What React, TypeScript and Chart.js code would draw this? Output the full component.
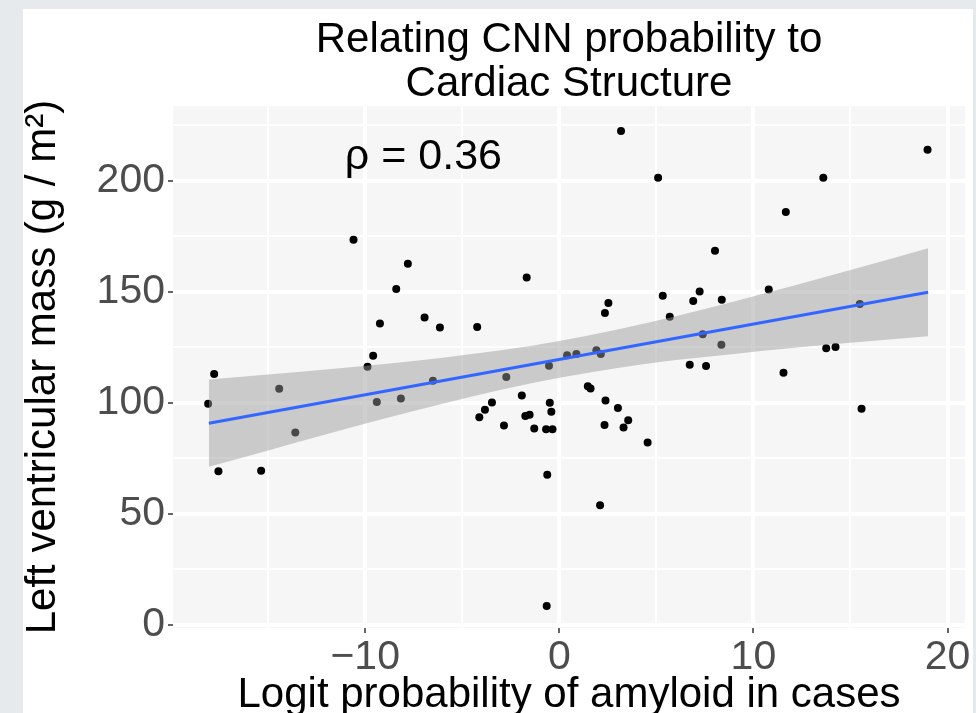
import React, { useEffect, useRef } from 'react';
import { Chart, registerables } from 'chart.js';

Chart.register(...registerables);

// ---- data ----
const pointX = [
  -18.09, -17.78, -17.56, -15.36, -14.43, -13.6, -10.6, -9.88, -9.59, -9.4,
  -9.24, -8.4, -8.16, -7.8, -6.94, -6.51, -6.15, -4.23, -4.12, -3.83,
  -3.47, -2.85, -2.73, -1.93, -1.75, -1.68, -1.53, -1.29, -0.68, -0.62,
  -0.65, -0.53, -0.49, -0.41, -0.35, 0.4, 0.88, 1.47, 1.61, 1.91,
  2.1, 2.14, 2.33, 2.35, 2.38, 2.53, 3.02, 3.18, 3.31, 3.55,
  4.55, 5.09, 5.33, 5.69, 6.72, 6.9, 7.23, 7.39, 7.56, 8.02,
  8.35, 8.37, 10.79, 11.55, 11.67, 13.6, 13.75, 14.23, 15.48, 15.57,
  18.97,
];
const pointY = [
  99.5, 112.9, 69.1, 69.4, 106.3, 86.6, 173.4, 116.2, 121.2, 100.3,
  135.7, 151.2, 101.9, 162.6, 138.4, 109.9, 133.9, 134.1, 93.4, 96.8,
  100.1, 89.7, 111.6, 103.3, 94.0, 156.4, 94.6, 88.4, 88.1, 67.6,
  8.4, 116.7, 100.0, 95.9, 88.1, 121.4, 121.9, 107.4, 106.4, 123.6,
  53.8, 122.0, 90.0, 140.4, 101.0, 144.9, 97.6, 222.4, 88.8, 92.1,
  82.1, 201.4, 148.2, 138.7, 117.1, 145.8, 150.1, 130.8, 116.5, 168.5,
  126.1, 146.4, 151.0, 113.5, 185.9, 201.4, 124.5, 125.1, 144.5, 97.3,
  214.0,
];

const fitX = [-18.05, 19.0];
const fitY = [90.75, 149.8];

const bandX = [-18.05, -15, -12, -9, -6, -3, 0, 3, 6, 9, 12, 15, 19.0];
const bandUpper = [110.5, 112.7, 115.0, 117.5, 120.3, 123.6, 127.8, 133.0, 139.0, 145.6, 152.6, 159.8, 169.6];
const bandLower = [71.1, 78.5, 85.8, 92.9, 99.5, 105.8, 111.2, 115.6, 119.2, 122.0, 124.6, 127.0, 129.9];

const xGridValues = [-15, -10, -5, 0, 5, 10, 15, 20];
const xLabelled = [-10, 0, 10, 20];
const yGridValues = [0, 25, 50, 75, 100, 125, 150, 175, 200, 225];
const yLabelled = [0, 50, 100, 150, 200];

const titleLines = ['Relating CNN probability to', 'Cardiac Structure'];
const xAxisTitle = 'Logit probability of amyloid in cases';
const yAxisTitle = 'Left ventricular mass (g / m²)';
const annotationText = 'ρ = 0.36';
const annotationX = -7.0;
const annotationY = 205.5;

const FONT = '"Liberation Sans", Arial, Helvetica, sans-serif';

const panelBg = {
  id: 'panelBg',
  beforeDraw(chart: any) {
    const { ctx, chartArea: a } = chart;
    ctx.save();
    ctx.fillStyle = '#f6f6f6';
    ctx.fillRect(a.left, a.top, a.right - a.left, a.bottom - a.top);
    ctx.restore();
  },
};

const annotationPlugin = {
  id: 'rhoLabel',
  afterDatasetsDraw(chart: any) {
    const { ctx, scales } = chart;
    const px = scales.x.getPixelForValue(annotationX);
    const py = scales.y.getPixelForValue(annotationY);
    ctx.save();
    ctx.font = `43px ${FONT}`;
    ctx.fillStyle = '#000000';
    ctx.textAlign = 'center';
    ctx.textBaseline = 'alphabetic';
    ctx.fillText(annotationText, px, py);
    ctx.restore();
  },
};

export default function App() {
  const canvasRef = useRef<HTMLCanvasElement | null>(null);

  useEffect(() => {
    const canvas = canvasRef.current;
    if (!canvas) return;

    const points = pointX.map((x, i) => ({ x, y: pointY[i] }));
    const fit = fitX.map((x, i) => ({ x, y: fitY[i] }));
    const upper = bandX.map((x, i) => ({ x, y: bandUpper[i] }));
    const lower = bandX.map((x, i) => ({ x, y: bandLower[i] }));

    const chart = new Chart(canvas, {
      type: 'scatter',
      data: {
        datasets: [
          {
            type: 'line',
            label: 'fit',
            data: fit,
            borderColor: '#3366FF',
            borderWidth: 3,
            pointRadius: 0,
            fill: false,
            order: 0,
          } as any,
          {
            type: 'line',
            label: 'upper',
            data: upper,
            borderColor: 'rgba(0,0,0,0)',
            borderWidth: 0,
            pointRadius: 0,
            cubicInterpolationMode: 'monotone',
            backgroundColor: 'rgba(153,153,153,0.47)',
            fill: '+1',
            order: 1,
          } as any,
          {
            type: 'line',
            label: 'lower',
            data: lower,
            borderColor: 'rgba(0,0,0,0)',
            borderWidth: 0,
            pointRadius: 0,
            cubicInterpolationMode: 'monotone',
            fill: false,
            order: 1,
          } as any,
          {
            type: 'scatter',
            label: 'points',
            data: points,
            backgroundColor: '#000000',
            borderWidth: 0,
            pointRadius: 4,
            order: 2,
          } as any,
        ],
      },
      options: {
        animation: false,
        responsive: false,
        maintainAspectRatio: false,
        layout: { padding: { top: 0, left: 0, right: 11, bottom: 0 } },
        plugins: {
          legend: { display: false },
          tooltip: { enabled: false },
          title: {
            display: true,
            text: titleLines,
            fullSize: false,
            color: '#000000',
            font: { family: FONT, size: 42, weight: 'normal', lineHeight: 1.05 },
            padding: { top: 18, bottom: 0 },
          },
        },
        scales: {
          x: {
            type: 'linear',
            min: -19.9,
            max: 20.9,
            afterFit: (s: any) => { s.height = 85; },
            afterBuildTicks: (s: any) => { s.ticks = xGridValues.map((v) => ({ value: v })); },
            border: { display: false },
            grid: {
              color: '#ffffff',
              lineWidth: (c: any) => (c.tick && xLabelled.includes(c.tick.value) ? 4 : 2),
              drawTicks: true,
              tickLength: 5,
              tickWidth: 1.5,
              tickColor: (c: any) => (c.tick && xLabelled.includes(c.tick.value) ? '#333333' : 'rgba(0,0,0,0)'),
            },
            ticks: {
              autoSkip: false,
              maxRotation: 0,
              padding: 0,
              color: '#4d4d4d',
              font: { family: FONT, size: 41 },
              callback: (v: any) => {
                const n = Number(v);
                if (!xLabelled.includes(n)) return '';
                return n < 0 ? '\u2212' + Math.abs(n) : String(n);
              },
            },
            title: {
              display: true,
              text: xAxisTitle,
              color: '#000000',
              font: { family: FONT, size: 42, lineHeight: 0.84 },
              padding: { top: 0, bottom: 0 },
            },
          },
          y: {
            type: 'linear',
            min: -1.5,
            max: 233.6,
            afterFit: (s: any) => { s.width = 173; },
            afterBuildTicks: (s: any) => { s.ticks = yGridValues.map((v) => ({ value: v })); },
            border: { display: false },
            grid: {
              color: '#ffffff',
              lineWidth: (c: any) => (c.tick && yLabelled.includes(c.tick.value) ? 4 : 2),
              drawTicks: true,
              tickLength: 5,
              tickWidth: 1.5,
              tickColor: (c: any) => (c.tick && yLabelled.includes(c.tick.value) ? '#333333' : 'rgba(0,0,0,0)'),
            },
            ticks: {
              autoSkip: false,
              padding: 3,
              color: '#4d4d4d',
              font: { family: FONT, size: 41 },
              callback: (v: any) => {
                const n = Number(v);
                return yLabelled.includes(n) ? String(n) : '';
              },
            },
            title: {
              display: true,
              text: yAxisTitle,
              color: '#000000',
              font: { family: FONT, size: 42, lineHeight: 1.2 },
              padding: { top: 18, bottom: 0 },
            },
          },
        },
      },
      plugins: [panelBg, annotationPlugin],
    });

    return () => chart.destroy();
  }, []);

  return (
    <div style={{ position: 'fixed', left: 0, top: 0, width: 976, height: 713, overflow: 'hidden', background: '#e7eaed' }}>
      <div style={{ position: 'absolute', left: 23, top: 9, width: 950, height: 704, background: '#ffffff' }} />
      <canvas
        ref={canvasRef}
        width={976}
        height={713}
        style={{ position: 'absolute', left: 0, top: 0, width: 976, height: 713, display: 'block' }}
      />
    </div>
  );
}
